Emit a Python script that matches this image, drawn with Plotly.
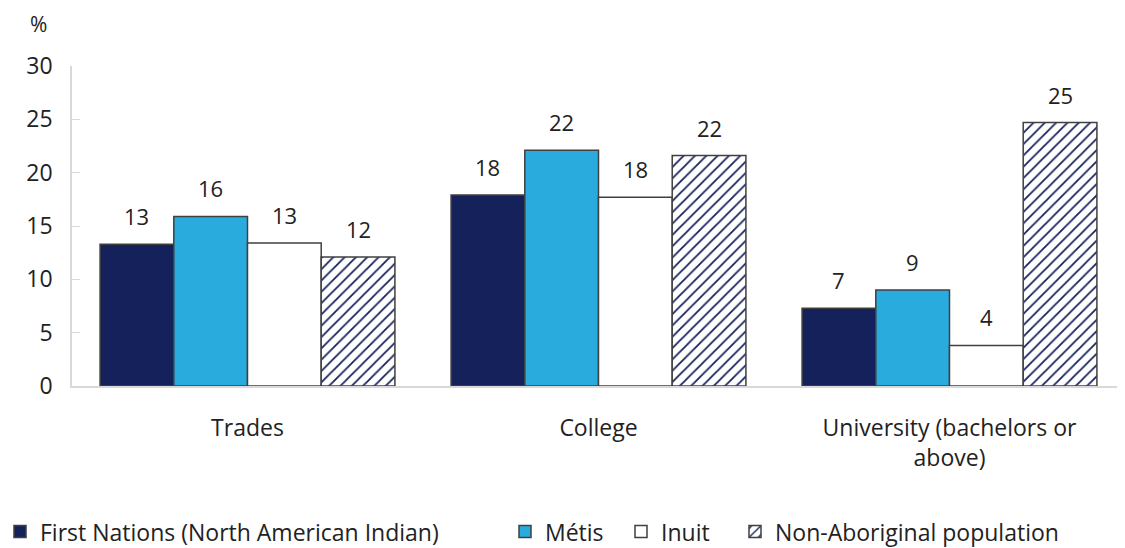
import plotly.graph_objects as go

categories = ["Trades", "College", "University (bachelors or<br>above)"]
first_nations = [13.3, 17.9, 7.3]
metis = [15.9, 22.1, 9.0]
inuit = [13.4, 17.7, 3.8]
non_aboriginal = [12.1, 21.6, 24.7]

series_names = ["First Nations (North American Indian)", "Métis", "Inuit", "Non-Aboriginal population"]

FONT = "Open Sans"
TXT = "#222222"
outline = dict(color="#404040", width=1.5)
NAVY = "#15215A"

# page body has an 8px default margin; compensate so the plot sits where the reference has it
W, H = 1117, 540
L, T, B = 64, 58, 162
plot_w = W - L

fig = go.Figure()
fig.add_bar(x=categories, y=first_nations, name=series_names[0], legend="legend",
            marker=dict(color=NAVY, line=outline))
fig.add_bar(x=categories, y=metis, name=series_names[1], legend="legend2",
            marker=dict(color="#29ABDE", line=outline))
fig.add_bar(x=categories, y=inuit, name=series_names[2], legend="legend3",
            marker=dict(color="#FFFFFF", line=outline))
fig.add_bar(x=categories, y=non_aboriginal, name=series_names[3], legend="legend4",
            marker=dict(color="#FFFFFF", line=outline,
                        pattern=dict(shape="/", fgcolor=NAVY, bgcolor="#FFFFFF",
                                     fgopacity=1, size=8, solidity=0.22)))

bargap = 0.16
n_series = 4
slot_px = plot_w / 3.0
bar_px = slot_px * (1 - bargap) / n_series
all_series = [first_nations, metis, inuit, non_aboriginal]
for si, vals in enumerate(all_series):
    off = (si - (n_series - 1) / 2) * bar_px
    for ci, v in enumerate(vals):
        fig.add_annotation(x=categories[ci], y=v, xref="x", yref="y",
                           text=f"{v:.0f}", showarrow=False,
                           xanchor="center", yanchor="bottom",
                           xshift=off, yshift=11,
                           font=dict(family=FONT, size=22, color=TXT))

legend_px = [-8, 497, 613, 727]  # left edges in figure px
leg_common = dict(orientation="h", xanchor="left", xref="paper", y=-0.455, yanchor="middle",
                  font=dict(family=FONT, size=23, color=TXT), itemwidth=30,
                  bgcolor="rgba(0,0,0,0)")
legends = {}
for i, px in enumerate(legend_px):
    key = "legend" if i == 0 else f"legend{i+1}"
    legends[key] = dict(leg_common, x=(px - L) / plot_w)

fig.update_layout(
    width=W, height=H,
    margin=dict(l=L, r=0, t=T, b=B, autoexpand=False),
    paper_bgcolor="white", plot_bgcolor="white",
    barmode="group", bargap=bargap, bargroupgap=0,
    font=dict(family=FONT, size=23, color=TXT),
    showlegend=True,
    xaxis=dict(showline=True, linecolor="#D9D9D9", linewidth=1.5, ticks="",
               tickfont=dict(family=FONT, size=23, color=TXT), showgrid=False,
               automargin=False, ticklabelstandoff=21, range=[-0.5, 2.5]),
    yaxis=dict(range=[0, 30], dtick=5, showline=True, linecolor="#D9D9D9", linewidth=1.5,
               ticks="inside", ticklen=8, tickcolor="#D9D9D9", showgrid=False,
               zeroline=False, tickfont=dict(family=FONT, size=23, color=TXT),
               ticklabelstandoff=13, automargin=False),
    **legends,
)
fig.add_annotation(text="%", xref="paper", yref="paper", x=(38 - 72) / plot_w, y=1.131,
                   xanchor="center", yanchor="middle", showarrow=False,
                   font=dict(family=FONT, size=21, color=TXT))

fig.write_html("out.html")
